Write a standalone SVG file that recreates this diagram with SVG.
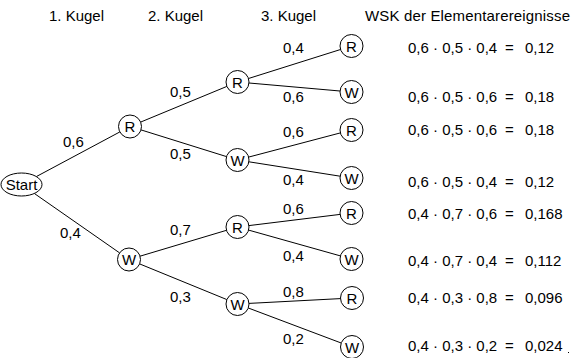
<svg xmlns="http://www.w3.org/2000/svg" width="575" height="358" viewBox="0 0 575 358">
<style>
text{font-family:"Liberation Sans",Arial,sans-serif;font-size:15px;fill:#000}
.n circle,.n ellipse{fill:#fff;stroke:#000;stroke-width:1}
.n text{text-anchor:middle}
#edges line{stroke:#000;stroke-width:1}
</style>
<rect width="575" height="358" fill="#fff"/>
<g id="headers">
<text x="49" y="21">1. Kugel</text>
<text x="148" y="21">2. Kugel</text>
<text x="261" y="21">3. Kugel</text>
<text x="365" y="21" textLength="205">WSK der Elementarereignisse</text>
</g>
<g id="edges">
<line x1="36.3" y1="176.6" x2="119.9" y2="131.9"/>
<line x1="34.4" y1="193.5" x2="119.6" y2="252.9"/>
<line x1="140.6" y1="122.1" x2="226.9" y2="86.4"/>
<line x1="141" y1="129.9" x2="226.5" y2="156.6"/>
<line x1="140" y1="256.2" x2="226.5" y2="230.3"/>
<line x1="139.6" y1="263.9" x2="226.9" y2="299.6"/>
<line x1="248.5" y1="78.5" x2="340.5" y2="49.5"/>
<line x1="249" y1="83" x2="340" y2="91"/>
<line x1="248.6" y1="157.1" x2="340.4" y2="132.9"/>
<line x1="248.9" y1="161.8" x2="340.1" y2="176.2"/>
<line x1="248.9" y1="225.6" x2="340.1" y2="214.4"/>
<line x1="248.6" y1="230.1" x2="340.4" y2="255.9"/>
<line x1="249" y1="303.4" x2="340.5" y2="298.6"/>
<line x1="248.3" y1="308" x2="341.2" y2="343"/>
</g>
<g id="edge-labels">
<text x="63" y="147">0,6</text>
<text x="60" y="238">0,4</text>
<text x="170" y="97">0,5</text>
<text x="170" y="159">0,5</text>
<text x="170" y="235">0,7</text>
<text x="170" y="302">0,3</text>
<text x="283" y="53">0,4</text>
<text x="283" y="102">0,6</text>
<text x="283" y="137">0,6</text>
<text x="283" y="185">0,4</text>
<text x="283" y="214">0,6</text>
<text x="283" y="261">0,4</text>
<text x="283" y="297">0,8</text>
<text x="283" y="344">0,2</text>
</g>
<g id="start" class="n"><ellipse cx="21.5" cy="184.5" rx="20.5" ry="11.5"/><text x="21.5" y="190">Start</text></g>
<g id="r1" class="n"><circle cx="130" cy="126.5" r="11.5"/><text x="130" y="132">R</text></g>
<g id="w1" class="n"><circle cx="129" cy="259.5" r="11.5"/><text x="129" y="265">W</text></g>
<g id="rr" class="n"><circle cx="237.5" cy="82" r="11.5"/><text x="237.5" y="87.5">R</text></g>
<g id="rw" class="n"><circle cx="237.5" cy="160" r="11.5"/><text x="237.5" y="165.5">W</text></g>
<g id="wr" class="n"><circle cx="237.5" cy="227" r="11.5"/><text x="237.5" y="232.5">R</text></g>
<g id="ww" class="n"><circle cx="237.5" cy="304" r="11.5"/><text x="237.5" y="309.5">W</text></g>
<g id="rrr" class="n"><circle cx="351.5" cy="46" r="11.5"/><text x="351.5" y="51.5">R</text></g>
<g id="rrw" class="n"><circle cx="351.5" cy="92" r="11.5"/><text x="351.5" y="97.5">W</text></g>
<g id="rwr" class="n"><circle cx="351.5" cy="130" r="11.5"/><text x="351.5" y="135.5">R</text></g>
<g id="rww" class="n"><circle cx="351.5" cy="178" r="11.5"/><text x="351.5" y="183.5">W</text></g>
<g id="wrr" class="n"><circle cx="351.5" cy="213" r="11.5"/><text x="351.5" y="218.5">R</text></g>
<g id="wrw" class="n"><circle cx="351.5" cy="259" r="11.5"/><text x="351.5" y="264.5">W</text></g>
<g id="wwr" class="n"><circle cx="352" cy="298" r="11.5"/><text x="352" y="303.5">R</text></g>
<g id="wwb" class="n"><circle cx="352" cy="347" r="11.5"/><text x="352" y="352.5">W</text></g>
<g id="results">
<text y="53"><tspan x="408">0,6 · 0,5 · 0,4</tspan><tspan x="505">=</tspan><tspan x="525">0,12</tspan></text>
<text y="102"><tspan x="408">0,6 · 0,5 · 0,6</tspan><tspan x="505">=</tspan><tspan x="525">0,18</tspan></text>
<text y="135"><tspan x="408">0,6 · 0,5 · 0,6</tspan><tspan x="505">=</tspan><tspan x="525">0,18</tspan></text>
<text y="187"><tspan x="408">0,6 · 0,5 · 0,4</tspan><tspan x="505">=</tspan><tspan x="525">0,12</tspan></text>
<text y="219"><tspan x="408">0,4 · 0,7 · 0,6</tspan><tspan x="505">=</tspan><tspan x="525">0,168</tspan></text>
<text y="266"><tspan x="408">0,4 · 0,7 · 0,4</tspan><tspan x="505">=</tspan><tspan x="525">0,112</tspan></text>
<text y="303"><tspan x="408">0,4 · 0,3 · 0,8</tspan><tspan x="505">=</tspan><tspan x="525">0,096</tspan></text>
<text y="351"><tspan x="408">0,4 · 0,3 · 0,2</tspan><tspan x="505">=</tspan><tspan x="525">0,024</tspan></text>
</g>
<rect x="568" y="352" width="1" height="1" fill="#000"/>
</svg>
